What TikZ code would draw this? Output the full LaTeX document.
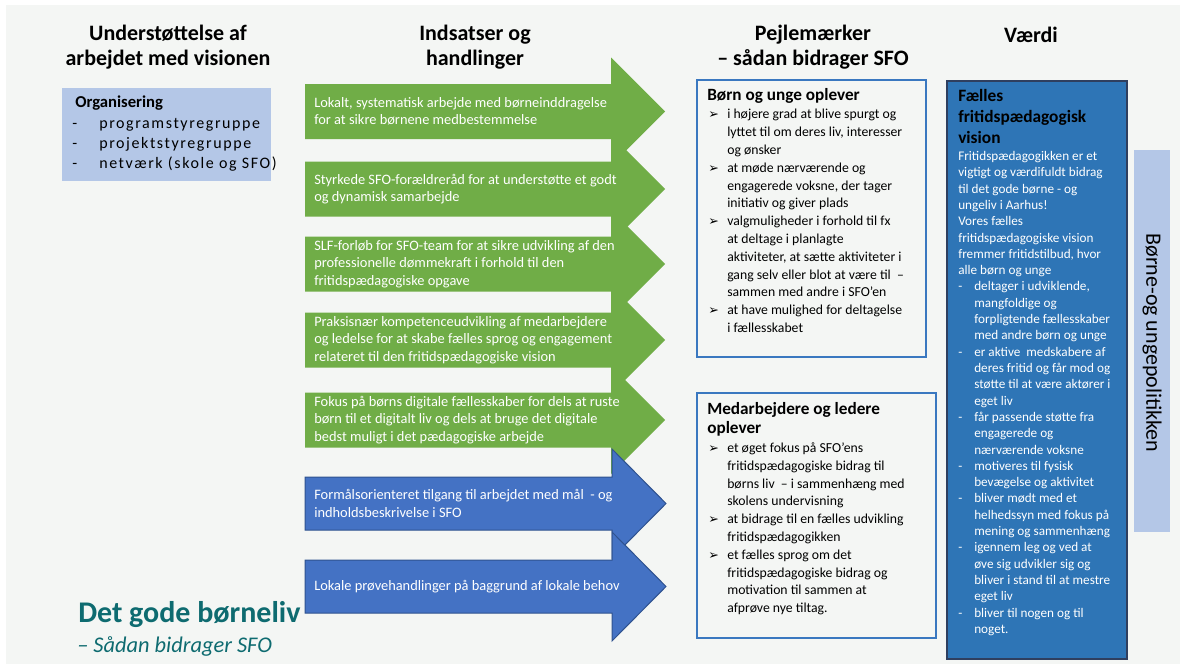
\documentclass[tikz,border=0pt]{standalone}
\usepackage{fontspec}
\setmainfont{Carlito}
\newfontfamily\pilfont{DejaVu Sans}

\definecolor{baggrund}{HTML}{F4F6F4}
\definecolor{groen}{HTML}{70AD47}
\definecolor{blaa}{HTML}{4472C4}
\definecolor{blaakant}{HTML}{2F528F}
\definecolor{lysblaa}{HTML}{B4C7E7}
\definecolor{visionblaa}{HTML}{2E75B6}
\definecolor{visionkant}{HTML}{2F3F5F}
\definecolor{pejlekant}{HTML}{3A78C0}
\definecolor{petrol}{HTML}{0E6B70}

\newcommand\pil{\makebox[14.25pt][l]{\pilfont\fontsize{9.5}{9.5}\selectfont ➢}}
\newcommand\ind{\hspace*{14.25pt}}
\newcommand\streg{\makebox[12pt][l]{-}}

\begin{document}
\begin{tikzpicture}[x=0.75pt,y=-0.75pt,
    overskrift/.style={font=\fontsize{16.5}{18.75}\selectfont\bfseries, align=center, inner sep=0pt},
    piltekst/.style={font=\fontsize{10.8}{13.1}\selectfont, text=white, align=left, anchor=west, inner sep=0pt},
    pejletitel/.style={font=\fontsize{12.9}{14}\selectfont\bfseries, align=left, anchor=west, inner sep=0pt},
    pejletekst/.style={font=\fontsize{10.3}{13.35}\selectfont, align=left, anchor=west, inner sep=0pt},
    visiontekst/.style={font=\fontsize{9.9}{12.23}\selectfont, text=white, align=left, anchor=west, inner sep=0pt}]
    \useasboundingbox (0,0) rectangle (1180,664);
    \fill[white] (0,0) rectangle (1180,664);
    \fill[baggrund] (6,5) rectangle (1180,664);

    % overskrifter
    \node[overskrift] (hUnder) at (168,47.5) {Understøttelse af\\arbejdet med visionen};
    \node[overskrift] (hInds) at (475,47.5) {Indsatser og\\handlinger};
    \node[overskrift] (hPejle) at (813,47.5) {Pejlemærker\\– sådan bidrager SFO};
    \node[overskrift] (hVaerdi) at (1031,35) {Værdi};

    % organisering
    \fill[lysblaa] (62,88) rectangle (271,181);
    \node[font=\fontsize{12.5}{14}\selectfont\bfseries, anchor=west, inner sep=0pt] (organisering) at (75,103) {Organisering};
    \node[font=\fontsize{12}{15}\selectfont, align=left, anchor=west, inner sep=0pt] (orgpunkter) at (72,145)
        {\makebox[20.25pt][l]{-}{\addfontfeature{LetterSpace=10}programstyregruppe}\\
         \makebox[20.25pt][l]{-}{\addfontfeature{LetterSpace=10}projektstyregruppe}\\
         \makebox[20.25pt][l]{-}{\addfontfeature{LetterSpace=10}netværk (skole og SFO)}};

    % pile
    \foreach \c in {111.5,189,264,340,420}
        \fill[groen] (305,{\c-27.5}) -- (611,{\c-27.5}) -- (611,{\c-54}) -- (665,\c)
            -- (611,{\c+54}) -- (611,{\c+27.5}) -- (305,{\c+27.5}) -- cycle;
    \foreach \c in {503.5,586.5}
        \filldraw[fill=blaa, draw=blaakant, line width=0.75pt] (305,{\c-26.5}) -- (612,{\c-26.5}) -- (612,{\c-54.5})
            -- (666,\c) -- (612,{\c+54.5}) -- (612,{\c+26.5}) -- (305,{\c+26.5}) -- cycle;

    \node[piltekst] (inds1) at (314,111.5) {Lokalt, systematisk arbejde med børneinddragelse\\for at sikre børnene medbestemmelse};
    \node[piltekst] (inds2) at (314,189) {Styrkede SFO-forældreråd for at understøtte et godt\\og dynamisk samarbejde};
    \node[piltekst] (inds3) at (314,264) {SLF-forløb for SFO-team for at sikre udvikling af den\\professionelle dømmekraft i forhold til den\\fritidspædagogiske opgave};
    \node[piltekst] (inds4) at (314,340) {Praksisnær kompetenceudvikling af medarbejdere\\og ledelse for at skabe fælles sprog og engagement\\relateret til den fritidspædagogiske vision};
    \node[piltekst] (inds5) at (314,420) {Fokus på børns digitale fællesskaber for dels at ruste\\børn til et digitalt liv og dels at bruge det digitale\\bedst muligt i det pædagogiske arbejde};
    \node[piltekst] (inds6) at (314,503.5) {Formålsorienteret tilgang til arbejdet med mål~ - og\\indholdsbeskrivelse i SFO};
    \node[piltekst] (inds7) at (314,586.5) {Lokale prøvehandlinger på baggrund af lokale behov};

    % pejlemaerker
    \draw[pejlekant, line width=1.5pt] (697,80) rectangle (926,357);
    \node[pejletitel] (bornTitel) at (707,96) {Børn og unge oplever};
    \node[pejletekst] (bornPunkter) at (708,221)
        {\pil i højere grad at blive spurgt og\\
         \ind lyttet til om deres liv, interesser\\
         \ind og ønsker\\
         \pil at møde nærværende og\\
         \ind engagerede voksne, der tager\\
         \ind initiativ og giver plads\\
         \pil valgmuligheder i forhold til fx\\
         \ind at deltage i planlagte\\
         \ind aktiviteter, at sætte aktiviteter i\\
         \ind gang selv eller blot at være til~ –\\
         \ind sammen med andre i SFO’en\\
         \pil at have mulighed for deltagelse\\
         \ind i fællesskabet};

    \draw[pejlekant, line width=1.5pt] (697,393) rectangle (936,638);
    \node[pejletitel] (medTitel) at (707,419) {Medarbejdere og ledere\\oplever};
    \node[pejletekst] (medPunkter) at (708,529)
        {\pil et øget fokus på SFO’ens\\
         \ind fritidspædagogiske bidrag til\\
         \ind børns liv~ – i sammenhæng med\\
         \ind skolens undervisning\\
         \pil at bidrage til en fælles udvikling\\
         \ind fritidspædagogikken\\
         \pil et fælles sprog om det\\
         \ind fritidspædagogiske bidrag og\\
         \ind motivation til sammen at\\
         \ind afprøve nye tiltag.};

    % vaerdi
    \filldraw[fill=visionblaa, draw=visionkant, line width=1.2pt] (947,81) rectangle (1127,659);
    \node[font=\fontsize{13}{15.75}\selectfont\bfseries, align=left, anchor=west, inner sep=0pt] (visionTitel) at (958,116.5)
        {Fælles\\fritidspædagogisk\\vision};
    \node[visiontekst] (visionTekst) at (958,393.5)
        {Fritidspædagogikken er et\\
         vigtigt og værdifuldt bidrag\\
         til det gode børne - og\\
         ungeliv i Aarhus!\\
         Vores fælles\\
         fritidspædagogiske vision\\
         fremmer fritidstilbud, hvor\\
         alle børn og unge\\
         \streg deltager i udviklende,\\
         \hspace*{12pt}mangfoldige og\\
         \hspace*{12pt}forpligtende fællesskaber\\
         \hspace*{12pt}med andre børn og unge\\
         \streg er aktive~ medskabere af\\
         \hspace*{12pt}deres fritid og får mod og\\
         \hspace*{12pt}støtte til at være aktører i\\
         \hspace*{12pt}eget liv\\
         \streg får passende støtte fra\\
         \hspace*{12pt}engagerede og\\
         \hspace*{12pt}nærværende voksne\\
         \streg motiveres til fysisk\\
         \hspace*{12pt}bevægelse og aktivitet\\
         \streg bliver mødt med et\\
         \hspace*{12pt}helhedssyn med fokus på\\
         \hspace*{12pt}mening og sammenhæng\\
         \streg igennem leg og ved at\\
         \hspace*{12pt}øve sig udvikler sig og\\
         \hspace*{12pt}bliver i stand til at mestre\\
         \hspace*{12pt}eget liv\\
         \streg bliver til nogen og til\\
         \hspace*{12pt}noget.};

    \fill[lysblaa] (1134,150) rectangle (1170,532);
    \node[rotate=-90, font=\fontsize{16.5}{18}\selectfont, inner sep=0pt] (politik) at (1152,343) {Børne-og ungepolitikken};

    % bundtekst
    \node[font=\fontsize{22.5}{25}\selectfont\bfseries, text=petrol, anchor=base west, inner sep=0pt] (godeLiv) at (78,622) {Det gode børneliv};
    \node[font=\fontsize{16.8}{19}\selectfont\itshape, text=petrol, anchor=base west, inner sep=0pt] (bidrager) at (77,652) {– Sådan bidrager SFO};
\end{tikzpicture}
\end{document}
